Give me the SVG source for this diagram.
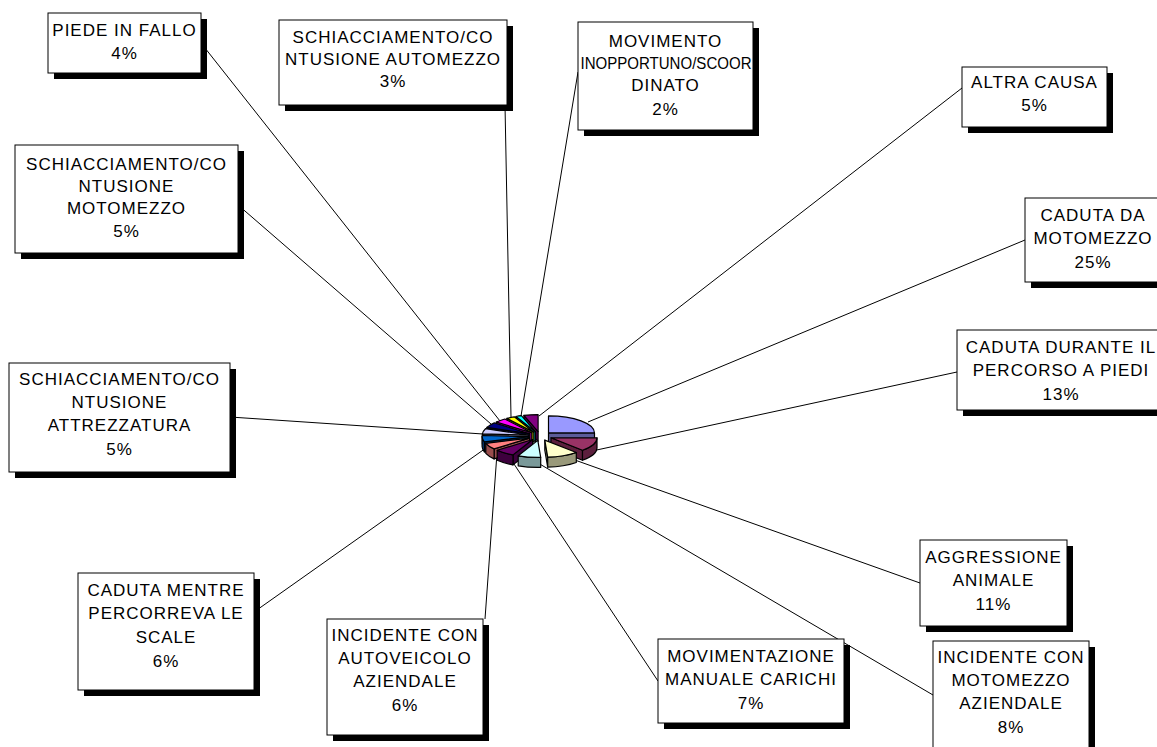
<svg xmlns="http://www.w3.org/2000/svg" width="1157" height="747" viewBox="0 0 1157 747">
<style>
.bg{fill:#ffffff}
.box{fill:#ffffff;stroke:#000;stroke-width:1}
.sh{fill:#000}
.t{font-family:"Liberation Sans",Arial,sans-serif;font-size:17px;letter-spacing:1px;fill:#000;text-anchor:middle}
.ln{stroke:#000;stroke-width:1;fill:none}
.pie path{stroke:#000;stroke-width:1.2;stroke-linejoin:round}
</style>
<rect class="bg" x="0" y="0" width="1157" height="747"/>
<g id="connectors">
<line class="ln" x1="201" y1="43" x2="500" y2="421"/>
<line class="ln" x1="505" y1="105" x2="511" y2="417"/>
<line class="ln" x1="578" y1="72" x2="521" y2="416"/>
<line class="ln" x1="962" y1="88" x2="539" y2="416"/>
<line class="ln" x1="1025" y1="240" x2="588" y2="422"/>
<line class="ln" x1="957" y1="372" x2="592" y2="451"/>
<line class="ln" x1="920" y1="583" x2="572" y2="459"/>
<line class="ln" x1="933" y1="695" x2="538" y2="463"/>
<line class="ln" x1="658" y1="681" x2="512" y2="461"/>
<line class="ln" x1="485" y1="619" x2="497" y2="453"/>
<line class="ln" x1="254" y1="612" x2="486" y2="448"/>
<line class="ln" x1="230" y1="417" x2="483" y2="434"/>
<line class="ln" x1="238" y1="205" x2="491" y2="424"/>
</g>
<g id="pie" class="pie">
<path fill="#4d004d" d="M538.1,431.6 L523.9,415.4 L523.9,425.4 L538.1,441.6 Z"/>
<path fill="#800080" d="M538.1,431.6 L523.9,415.4 A46,17 0 0 1 538.1,414.6 Z"/>
<path fill="#009999" d="M535.6,431.9 L516.0,416.5 L516.0,426.5 L535.6,441.9 Z"/>
<path fill="#00FFFF" d="M535.6,431.9 L516.0,416.5 A46,17 0 0 1 521.4,415.7 Z"/>
<path fill="#999900" d="M533.9,432.2 L506.9,418.4 L506.9,428.4 L533.9,442.2 Z"/>
<path fill="#FFFF00" d="M533.9,432.2 L506.9,418.4 A46,17 0 0 1 514.3,416.8 Z"/>
<path fill="#990099" d="M531.8,432.8 L496.4,422.0 L496.4,432.0 L531.8,442.8 Z"/>
<path fill="#FF00FF" d="M531.8,432.8 L496.4,422.0 A46,17 0 0 1 504.8,419.0 Z"/>
<path fill="#5c5c99" d="M548.5,432.9 L594.5,432.9 L594.5,442.9 L548.5,442.9 Z"/>
<path fill="#9999FF" d="M548.5,432.9 L548.5,415.9 A46,17 0 0 1 594.5,432.9 Z"/>
<path fill="#00004d" d="M529.7,433.7 L486.9,427.4 L486.9,437.4 L529.7,443.7 Z"/>
<path fill="#000080" d="M529.7,433.7 L486.9,427.4 A46,17 0 0 1 494.3,422.9 Z"/>
<path fill="#7a7a99" d="M528.3,435.0 L482.4,433.9 L482.4,443.9 L528.3,445.0 Z"/>
<path fill="#CCCCFF" d="M528.3,435.0 L482.4,433.9 A46,17 0 0 1 485.5,428.7 Z"/>
<path fill="#003d7a" d="M528.1,436.6 L484.4,441.9 L484.4,451.9 L528.1,446.6 Z"/>
<path fill="#003d7a" d="M484.4,441.9 A46,17 0 0 1 482.1,436.6 L482.1,446.6 A46,17 0 0 0 484.4,451.9 Z"/>
<path fill="#0066CC" d="M528.1,436.6 L484.4,441.9 A46,17 0 0 1 482.2,435.5 Z"/>
<path fill="#5c1f3d" d="M551.0,437.8 L582.5,450.2 L582.5,460.2 L551.0,447.8 Z"/>
<path fill="#5c1f3d" d="M597.0,437.8 A46,17 0 0 1 582.5,450.2 L582.5,460.2 A46,17 0 0 0 597.0,447.8 Z"/>
<path fill="#993366" d="M551.0,437.8 L597.0,437.8 A46,17 0 0 1 582.5,450.2 Z"/>
<path fill="#994d4d" d="M529.5,438.1 L494.1,448.9 L494.1,458.9 L529.5,448.1 Z"/>
<path fill="#994d4d" d="M494.1,448.9 A46,17 0 0 1 485.8,443.4 L485.8,453.4 A46,17 0 0 0 494.1,458.9 Z"/>
<path fill="#FF8080" d="M529.5,438.1 L494.1,448.9 A46,17 0 0 1 485.8,443.4 Z"/>
<path fill="#3d003d" d="M532.6,439.5 L513.0,454.9 L513.0,464.9 L532.6,449.5 Z"/>
<path fill="#3d003d" d="M513.0,454.9 A46,17 0 0 1 497.2,450.3 L497.2,460.3 A46,17 0 0 0 513.0,464.9 Z"/>
<path fill="#660066" d="M532.6,439.5 L513.0,454.9 A46,17 0 0 1 497.2,450.3 Z"/>
<path fill="#99997a" d="M544.8,440.1 L547.7,457.1 L547.7,467.1 L544.8,450.1 Z"/>
<path fill="#99997a" d="M576.3,452.5 A46,17 0 0 1 547.7,457.1 L547.7,467.1 A46,17 0 0 0 576.3,462.5 Z"/>
<path fill="#FFFFCC" d="M544.8,440.1 L576.3,452.5 A46,17 0 0 1 547.7,457.1 Z"/>
<path fill="#7a9999" d="M540.7,457.4 A46,17 0 0 1 518.2,455.8 L518.2,465.8 A46,17 0 0 0 540.7,467.4 Z"/>
<path fill="#CCFFFF" d="M537.8,440.4 L540.7,457.4 A46,17 0 0 1 518.2,455.8 Z"/>
</g>
<g id="n-piede">
<rect class="sh" x="54" y="19" width="153" height="60"/>
<rect class="box" x="48" y="13" width="153" height="60"/>
<text class="t" x="124.5" y="36">PIEDE IN FALLO</text>
<text class="t" x="124.5" y="59">4%</text>
</g>
<g id="n-automezzo">
<rect class="sh" x="285" y="26" width="228" height="85"/>
<rect class="box" x="279" y="20" width="228" height="85"/>
<text class="t" x="393" y="43">SCHIACCIAMENTO/CO</text>
<text class="t" x="393" y="65">NTUSIONE AUTOMEZZO</text>
<text class="t" x="393" y="87">3%</text>
</g>
<g id="n-movimento">
<rect class="sh" x="584" y="28" width="175" height="108"/>
<rect class="box" x="578" y="22" width="175" height="108"/>
<text class="t" x="665.5" y="47">MOVIMENTO</text>
<text class="t" x="666" y="69" style="letter-spacing:0;font-size:16.5px" textLength="171" lengthAdjust="spacingAndGlyphs">INOPPORTUNO/SCOOR</text>
<text class="t" x="665.5" y="91">DINATO</text>
<text class="t" x="665.5" y="115">2%</text>
</g>
<g id="n-altra">
<rect class="sh" x="968" y="73" width="145" height="60"/>
<rect class="box" x="962" y="67" width="145" height="60"/>
<text class="t" x="1034.5" y="88">ALTRA CAUSA</text>
<text class="t" x="1034.5" y="111">5%</text>
</g>
<g id="n-caduta-motomezzo">
<rect class="sh" x="1031" y="204" width="140" height="84"/>
<rect class="box" x="1025" y="198" width="140" height="84"/>
<text class="t" x="1093" y="221">CADUTA DA</text>
<text class="t" x="1093" y="244">MOTOMEZZO</text>
<text class="t" x="1093" y="268">25%</text>
</g>
<g id="n-caduta-percorso">
<rect class="sh" x="963" y="336" width="215" height="80"/>
<rect class="box" x="957" y="330" width="215" height="80"/>
<text class="t" x="1061" y="353">CADUTA DURANTE IL</text>
<text class="t" x="1061" y="376">PERCORSO A PIEDI</text>
<text class="t" x="1061" y="400">13%</text>
</g>
<g id="n-aggressione">
<rect class="sh" x="926" y="546" width="147" height="86"/>
<rect class="box" x="920" y="540" width="147" height="86"/>
<text class="t" x="993.5" y="563">AGGRESSIONE</text>
<text class="t" x="993.5" y="586">ANIMALE</text>
<text class="t" x="993.5" y="610">11%</text>
</g>
<g id="n-incidente-motomezzo">
<rect class="sh" x="939" y="647" width="156" height="120"/>
<rect class="box" x="933" y="641" width="156" height="120"/>
<text class="t" x="1011" y="663">INCIDENTE CON</text>
<text class="t" x="1011" y="686">MOTOMEZZO</text>
<text class="t" x="1011" y="709">AZIENDALE</text>
<text class="t" x="1011" y="733">8%</text>
</g>
<g id="n-movimentazione">
<rect class="sh" x="664" y="645" width="186" height="84"/>
<rect class="box" x="658" y="639" width="186" height="84"/>
<text class="t" x="751" y="662">MOVIMENTAZIONE</text>
<text class="t" x="751" y="685">MANUALE CARICHI</text>
<text class="t" x="751" y="709">7%</text>
</g>
<g id="n-autoveicolo">
<rect class="sh" x="333" y="625" width="156" height="116"/>
<rect class="box" x="327" y="619" width="156" height="116"/>
<text class="t" x="405" y="641">INCIDENTE CON</text>
<text class="t" x="405" y="664">AUTOVEICOLO</text>
<text class="t" x="405" y="687">AZIENDALE</text>
<text class="t" x="405" y="711">6%</text>
</g>
<g id="n-scale">
<rect class="sh" x="84" y="579" width="176" height="117"/>
<rect class="box" x="78" y="573" width="176" height="117"/>
<text class="t" x="166" y="596">CADUTA MENTRE</text>
<text class="t" x="166" y="619">PERCORREVA LE</text>
<text class="t" x="166" y="643">SCALE</text>
<text class="t" x="166" y="667">6%</text>
</g>
<g id="n-attrezzatura">
<rect class="sh" x="15" y="369" width="221" height="109"/>
<rect class="box" x="9" y="363" width="221" height="109"/>
<text class="t" x="119.5" y="385">SCHIACCIAMENTO/CO</text>
<text class="t" x="119.5" y="408">NTUSIONE</text>
<text class="t" x="119.5" y="431">ATTREZZATURA</text>
<text class="t" x="119.5" y="455">5%</text>
</g>
<g id="n-motomezzo">
<rect class="sh" x="21" y="151" width="223" height="108"/>
<rect class="box" x="15" y="145" width="223" height="108"/>
<text class="t" x="126.5" y="170">SCHIACCIAMENTO/CO</text>
<text class="t" x="126.5" y="192">NTUSIONE</text>
<text class="t" x="126.5" y="214">MOTOMEZZO</text>
<text class="t" x="126.5" y="237">5%</text>
</g>
</svg>
